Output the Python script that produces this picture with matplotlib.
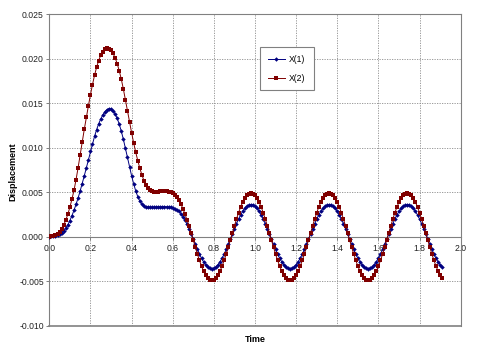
import numpy as np
import matplotlib
matplotlib.use("Agg")
import matplotlib.pyplot as plt
from matplotlib.ticker import FormatStrFormatter, MultipleLocator

plt.rcParams['font.family'] = ['Liberation Sans', 'DejaVu Sans']

# time grid of the exported table (0.00 .. 1.91 s, 0.01 s step)
time = np.round(np.arange(192) * 0.01, 2)

# displacement, in units of 1e-3
x1_milli = [
    0.00, 0.01, 0.03, 0.08, 0.16, 0.28, 0.44, 0.66, 0.95, 1.33,
    1.80, 2.35, 2.95, 3.62, 4.35, 5.13, 5.96, 6.83, 7.73, 8.65,
    9.57, 10.46, 11.28, 12.03, 12.68, 13.23, 13.68, 14.03, 14.27, 14.40,
    14.35, 14.15, 13.80, 13.30, 12.65, 11.85, 10.95, 9.95, 8.90, 7.85,
    6.85, 5.95, 5.15, 4.50, 4.00, 3.65, 3.45, 3.35, 3.30, 3.28,
    3.28, 3.30, 3.32, 3.35, 3.37, 3.38, 3.38, 3.36, 3.33, 3.29,
    3.23, 3.15, 3.03, 2.84, 2.58, 2.25, 1.85, 1.38, 0.85, 0.28,
    -0.30, -0.88, -1.45, -1.97, -2.44, -2.84, -3.17, -3.41, -3.55, -3.60,
    -3.55, -3.41, -3.17, -2.84, -2.44, -1.97, -1.45, -0.88, -0.30, 0.30,
    0.88, 1.45, 1.97, 2.44, 2.84, 3.17, 3.41, 3.55, 3.60, 3.55,
    3.41, 3.17, 2.84, 2.44, 1.97, 1.45, 0.88, 0.30, -0.30, -0.88,
    -1.45, -1.97, -2.44, -2.84, -3.17, -3.41, -3.55, -3.60, -3.55, -3.41,
    -3.17, -2.84, -2.44, -1.97, -1.45, -0.88, -0.30, 0.30, 0.88, 1.45,
    1.97, 2.44, 2.84, 3.17, 3.41, 3.55, 3.60, 3.55, 3.41, 3.17,
    2.84, 2.44, 1.97, 1.45, 0.88, 0.30, -0.30, -0.88, -1.45, -1.97,
    -2.44, -2.84, -3.17, -3.41, -3.55, -3.60, -3.55, -3.41, -3.17, -2.84,
    -2.44, -1.97, -1.45, -0.88, -0.30, 0.30, 0.88, 1.45, 1.97, 2.44,
    2.84, 3.17, 3.41, 3.55, 3.60, 3.55, 3.41, 3.17, 2.84, 2.44,
    1.97, 1.45, 0.88, 0.30, -0.30, -0.88, -1.45, -1.97, -2.44, -2.84,
    -3.17, -3.41,
]

x2_milli = [
    0.00, 0.02, 0.08, 0.18, 0.33, 0.54, 0.86, 1.30, 1.85, 2.50,
    3.30, 4.20, 5.20, 6.40, 7.75, 9.20, 10.65, 12.05, 13.40, 14.70,
    15.95, 17.10, 18.15, 19.05, 19.80, 20.40, 20.80, 21.05, 21.18, 21.15,
    20.95, 20.60, 20.10, 19.45, 18.65, 17.70, 16.60, 15.40, 14.15, 12.90,
    11.70, 10.55, 9.50, 8.55, 7.70, 6.95, 6.30, 5.80, 5.45, 5.20,
    5.08, 5.04, 5.04, 5.06, 5.08, 5.10, 5.10, 5.08, 5.05, 5.00,
    4.92, 4.72, 4.45, 4.10, 3.65, 3.10, 2.50, 1.85, 1.15, 0.40,
    -0.41, -1.20, -1.97, -2.68, -3.32, -3.87, -4.31, -4.63, -4.83, -4.90,
    -4.83, -4.63, -4.31, -3.87, -3.32, -2.68, -1.97, -1.20, -0.41, 0.41,
    1.20, 1.97, 2.68, 3.32, 3.87, 4.31, 4.63, 4.83, 4.90, 4.83,
    4.63, 4.31, 3.87, 3.32, 2.68, 1.97, 1.20, 0.41, -0.41, -1.20,
    -1.97, -2.68, -3.32, -3.87, -4.31, -4.63, -4.83, -4.90, -4.83, -4.63,
    -4.31, -3.87, -3.32, -2.68, -1.97, -1.20, -0.41, 0.41, 1.20, 1.97,
    2.68, 3.32, 3.87, 4.31, 4.63, 4.83, 4.90, 4.83, 4.63, 4.31,
    3.87, 3.32, 2.68, 1.97, 1.20, 0.41, -0.41, -1.20, -1.97, -2.68,
    -3.32, -3.87, -4.31, -4.63, -4.83, -4.90, -4.83, -4.63, -4.31, -3.87,
    -3.32, -2.68, -1.97, -1.20, -0.41, 0.41, 1.20, 1.97, 2.68, 3.32,
    3.87, 4.31, 4.63, 4.83, 4.90, 4.83, 4.63, 4.31, 3.87, 3.32,
    2.68, 1.97, 1.20, 0.41, -0.41, -1.20, -1.97, -2.68, -3.32, -3.87,
    -4.31, -4.63,
]

x1 = np.array(x1_milli) / 1000.0
x2 = np.array(x2_milli) / 1000.0

grey = '#808080'

fig = plt.figure(figsize=(4.94, 3.52), dpi=100)
ax = fig.add_axes([49.3 / 494, 1 - 325.5 / 352, (460.7 - 49.3) / 494, (325.5 - 14.3) / 352])

ax.plot(time, x1, color='#000080', lw=0.7, marker='D', ms=2.3, mew=0, label='X(1)', zorder=3)
ax.plot(time, x2, color='#800000', lw=0.7, marker='s', ms=2.5, mew=0, label='X(2)', zorder=4)

ax.set_xlim(0, 2.0)
ax.set_ylim(-0.010, 0.025)
ax.xaxis.set_major_locator(MultipleLocator(0.2))
ax.yaxis.set_major_locator(MultipleLocator(0.005))
ax.xaxis.set_major_formatter(FormatStrFormatter('%.1f'))
ax.yaxis.set_major_formatter(FormatStrFormatter('%.3f'))

ax.grid(True, color='#8c8c8c', lw=0.6, ls=(0, (1.5, 1.5)))
ax.set_axisbelow(True)

# excel style: x axis crosses at zero, plot area has a grey frame
ax.spines['bottom'].set_position(('data', 0))
for s in ax.spines.values():
    s.set_color(grey)
    s.set_linewidth(0.8)
ax.axhline(-0.010, color=grey, lw=1.2, clip_on=False)

ax.tick_params(axis='both', colors=grey, labelcolor='#222222', labelsize=6.2,
               length=2.5, width=0.7, direction='out')
ax.tick_params(axis='y', pad=1.5)
ax.tick_params(axis='x', pad=3)

fig.text(255 / 494, 1 - 340 / 352, 'Time', ha='center', va='center',
         fontsize=6.5, fontweight='bold')
fig.text(12.7 / 494, 1 - 172 / 352, 'Displacement', ha='center', va='center',
         rotation=90, fontsize=6.5, fontweight='bold')

leg = ax.legend(loc='upper left', bbox_to_anchor=(260 / 494, 1 - 47 / 352),
                bbox_transform=fig.transFigure, fontsize=6.2, fancybox=False,
                framealpha=1, edgecolor=grey, handlelength=2.0,
                borderpad=0.9, labelspacing=1.15, handletextpad=0.5,
                borderaxespad=0)
leg.get_frame().set_linewidth(0.8)

fig.savefig('out.png', dpi=100)
